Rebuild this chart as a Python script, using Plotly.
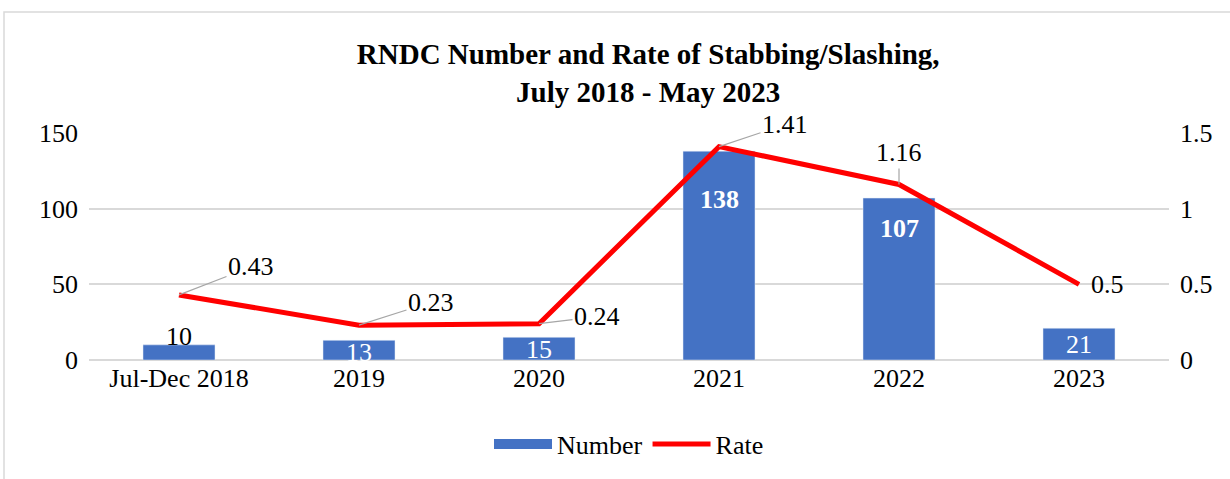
import plotly.graph_objects as go

categories = ["Jul-Dec 2018", "2019", "2020", "2021", "2022", "2023"]
number = [10, 13, 15, 138, 107, 21]
rate = [0.43, 0.23, 0.24, 1.41, 1.16, 0.5]
rate_labels = ["0.43", "0.23", "0.24", "1.41", "1.16", "0.5"]

FONT = "Liberation Serif, Times New Roman, serif"
BLUE = "#4472C4"
RED = "#FF0000"
FS = 26

fig = go.Figure()
fig.add_trace(go.Bar(x=categories, y=number, name="Number", marker_color=BLUE,
                     yaxis="y", showlegend=False, hoverinfo="skip"))
# legend stand-in for the bar series (wide rectangle like the reference)
fig.add_trace(go.Scatter(x=[None], y=[None], name="Number", mode="lines",
                         line=dict(color=BLUE, width=15), yaxis="y"))
fig.add_trace(go.Scatter(x=categories, y=rate, name="Rate", mode="lines",
                         line=dict(color=RED, width=5), yaxis="y2"))

# bar labels (white inside, except the first one which sits on top)
bar_shift = [8, -12, -12, -48, -30, -16]
bar_color = ["black", "white", "white", "white", "white", "white"]
bar_bold = [False, False, False, True, True, False]
for i, (v, s, col, b) in enumerate(zip(number, bar_shift, bar_color, bar_bold)):
    fig.add_annotation(x=i, y=v, xref="x", yref="y", text=f"<b>{v}</b>" if b else str(v),
                       showarrow=False, yshift=s,
                       font=dict(family=FONT, size=FS, color=col))

# rate labels with leader lines
offs = [(72, -28), (72, -23), (58, -7), (66, -22), (0, -32), (28, 0)]
for i, (v, t, (ax, ay)) in enumerate(zip(rate, rate_labels, offs)):
    is_last = i == len(rate) - 1
    fig.add_annotation(x=i, y=v, xref="x", yref="y2", text=t, showarrow=not is_last,
                       arrowhead=0, arrowwidth=1.2, arrowcolor="#A6A6A6",
                       ax=ax, ay=ay, standoff=0, startstandoff=0,
                       xshift=ax if is_last else 0,
                       xanchor="center", yanchor="middle",
                       font=dict(family=FONT, size=FS, color="black"))

fig.update_layout(
    width=1230, height=479,
    margin=dict(l=89, r=61, t=133, b=119),
    plot_bgcolor="white", paper_bgcolor="white",
    title=dict(text="<b>RNDC Number and Rate of Stabbing/Slashing,<br>July 2018 - May 2023</b>",
               x=0.527, xanchor="center", y=0.866, yanchor="middle",
               font=dict(family=FONT, size=29, color="black")),
    font=dict(family=FONT, size=FS, color="black"),
    bargap=0.6,
    xaxis=dict(type="category", range=[-0.5, 5.5], autorange=False, showgrid=False,
               ticks="", showline=False, tickfont=dict(family=FONT, size=FS)),
    yaxis=dict(range=[0, 150], tickvals=[0, 50, 100, 150], showgrid=True,
               gridcolor="#D9D9D9", gridwidth=1.5, zeroline=True, zerolinecolor="#D9D9D9",
               zerolinewidth=1.5, ticks="", ticklabelstandoff=10,
               tickfont=dict(family=FONT, size=FS)),
    yaxis2=dict(range=[0, 1.5], tickvals=[0, 0.5, 1, 1.5], ticktext=["0", "0.5", "1", "1.5"],
                overlaying="y", side="right", showgrid=False, zeroline=False,
                ticks="", ticklabelstandoff=10, tickfont=dict(family=FONT, size=FS)),
    legend=dict(orientation="h", x=0.5, xanchor="center", y=-0.37, yanchor="middle",
                font=dict(family=FONT, size=FS), traceorder="normal", itemwidth=58),
    showlegend=True,
)

fig.add_shape(type="rect", xref="paper", yref="paper",
              x0=(4 - 89) / 1080, x1=(1240 - 89) / 1080,
              y0=(360 - 490) / 227, y1=(360 - 12) / 227,
              line=dict(color="#D9D9D9", width=1.5), fillcolor="rgba(0,0,0,0)", layer="below")

fig.write_html("out.html")
